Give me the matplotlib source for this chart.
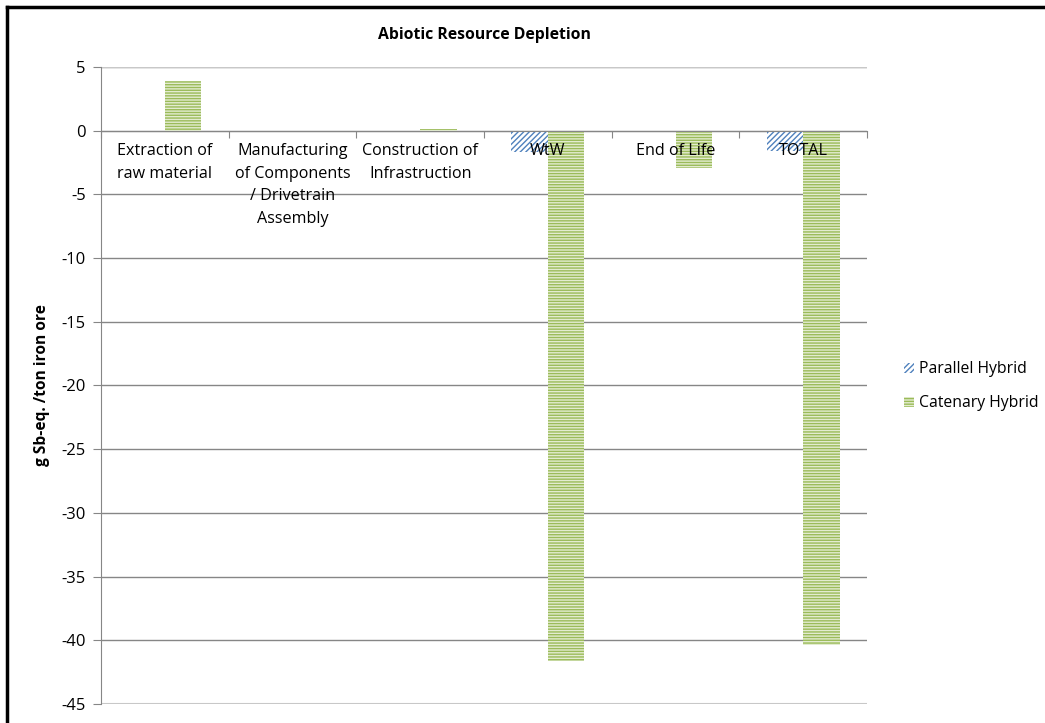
import numpy as np
import matplotlib.pyplot as plt
from matplotlib.lines import Line2D
from matplotlib.patches import Patch

plt.rcParams['font.family'] = ['Open Sans', 'DejaVu Sans']
plt.rcParams['hatch.linewidth'] = 1.0
plt.rcParams['axes.unicode_minus'] = False

categories = ['Extraction of\nraw material', 'Manufacturing\nof Components\n/ Drivetrain\nAssembly',
              'Construction of\nInfrastruction', 'WtW', 'End of Life', 'TOTAL']
parallel = [0, 0, 0, -1.65, -0.1, -1.6]
catenary = [3.9, 0, 0.15, -41.6, -2.9, -40.4]
series_names = ['Parallel Hybrid', 'Catenary Hybrid']
yticks = np.arange(-45, 6, 5)

blue = '#4F81BD'
green = '#9BBB59'

fig = plt.figure(figsize=(10.45, 7.23), dpi=100)
ax = fig.add_axes([101/1045, 1-704/723, (867-101)/1045, (704-67)/723])

x = np.arange(len(categories))
w = 1/3.5
ax.bar(x - w/2, parallel, w, facecolor='white', edgecolor=blue, hatch='//////', linewidth=0, zorder=2)
ax.bar(x + w/2, catenary, w, facecolor='#e3ecd0', edgecolor=green, hatch='------', linewidth=0, zorder=2)

ax.set_xlim(-0.5, len(categories) - 0.5)
ax.set_ylim(-45, 5)
ax.set_yticks(yticks)
ax.tick_params(axis='y', direction='out', length=6, color='#868686', labelsize=12, pad=5)
ax.yaxis.grid(True, color='#868686', linewidth=1)
ax.set_axisbelow(True)
ax.axhline(5, color='#c8c8c8', linewidth=1.5, zorder=1)
ax.axhline(-45, color='#c8c8c8', linewidth=1.5, zorder=1)

for s in ['top', 'right']:
    ax.spines[s].set_visible(False)
ax.spines['left'].set_color('#868686')
ax.spines['bottom'].set_position(('data', 0))
ax.spines['bottom'].set_color('#868686')

ax.set_xticks(np.arange(-0.5, len(categories), 1))
ax.set_xticklabels([])
ax.tick_params(axis='x', direction='out', length=5, color='#868686')

# category labels sit just under the zero line, drawn over the bars
for i, lab in enumerate(categories):
    ax.annotate(lab, (i, 0), xytext=(0, -9), textcoords='offset points',
                ha='center', va='top', fontsize=11.6, linespacing=1.55, zorder=5)

ax.set_title('Abiotic Resource Depletion', fontsize=11.3, fontweight='bold', pad=20)
ax.set_ylabel('g Sb-eq. /ton iron ore', fontsize=11.2, fontweight='bold', labelpad=8)

handles = [Patch(facecolor='white', edgecolor=blue, hatch='//////', linewidth=0),
           Patch(facecolor='#e3ecd0', edgecolor=green, hatch='------', linewidth=0)]
fig.legend(handles, series_names, loc='center left', bbox_to_anchor=(0.852, 0.466),
           frameon=False, fontsize=11.3, handlelength=0.6, handleheight=0.6,
           handletextpad=0.35, labelspacing=1.15)

# frame around the chart (left and top edges)
fig.add_artist(Line2D([6.5/1045, 6.5/1045], [0, 1-6.5/723], color='black', linewidth=2.5))
fig.add_artist(Line2D([6.5/1045, 1], [1-6.5/723, 1-6.5/723], color='black', linewidth=2.5))

fig.savefig('out.png', dpi=100)
